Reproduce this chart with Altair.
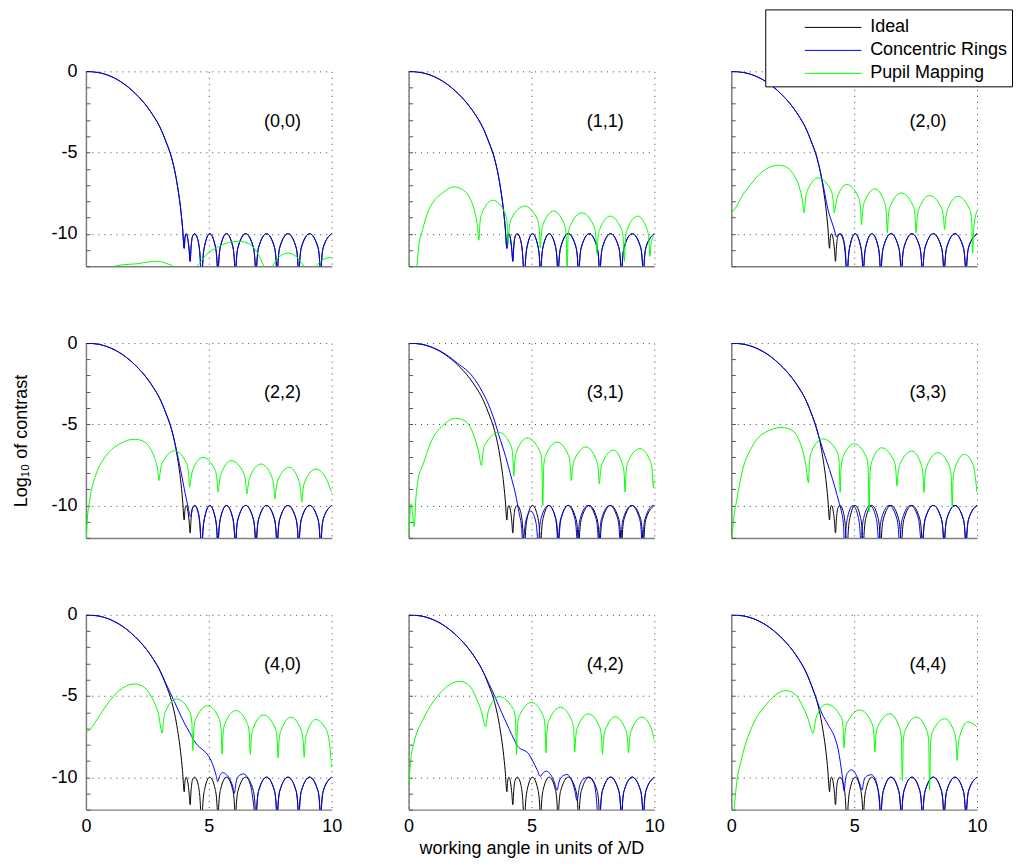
import altair as alt
import pandas as pd

SERIES = ["Ideal", "Concentric Rings", "Pupil Mapping"]
COLORS = ["#000000", "#0000ff", "#00ff00"]
PANELS = ["(0,0)", "(1,1)", "(2,0)", "(2,2)", "(3,1)", "(3,3)", "(4,0)", "(4,2)", "(4,4)"]
X_TICKS = [0, 5, 10]
Y_TICKS = [0, -5, -10]
Y_MINOR = [0, -1, -2, -3, -4, -5, -6, -7, -8, -9, -10, -11, -12]
X_TITLE = "working angle in units of λ/D"
Y_TITLE = "Log₁₀ of contrast"
LABEL_POS = (8.0, -3.1)

# ---- main lobe (shared top part) ----
MAIN_TOP = [(0, 0), (0.5, -0.07), (1.0, -0.3), (1.5, -0.72), (2.0, -1.35), (2.5, -2.2), (2.75, -2.75),
            (3.0, -3.4)]

# ---- Ideal (same in every panel) ----
IDEAL_HEAD = MAIN_TOP + [(3.25, -4.3), (3.5, -5.4), (3.65, -6.4), (3.75, -7.3), (3.85, -8.4), (3.93, -9.6),
                         (4.0, -10.9), (4.03, -10.25), (4.08, -10.0), (4.15, -10.35), (4.2, -11.0),
                         (4.24, -11.7), (4.28, -10.8), (4.33, -10.2), (4.42, -10.0), (4.54, -10.3),
                         (4.63, -11.1)]
IDEAL_MID = [(4.72, -13), (4.75, -11.85), (4.83, -10.75), (5.04, -10.0), (5.26, -10.75), (5.34, -11.85),
             (5.37, -13), (5.40, -11.85), (5.48, -10.75), (5.72, -10.0), (5.97, -10.75), (6.05, -11.85),
             (6.08, -13), (6.11, -11.95), (6.19, -10.83), (6.5, -10.0), (6.81, -10.83), (6.89, -11.95)]
IDEAL_L5 = [(6.92, -13), (6.95, -11.95), (7.03, -10.83), (7.35, -10.0), (7.67, -10.83), (7.75, -11.95)]
IDEAL_FAR = [(7.78, -13), (7.81, -11.95), (7.89, -10.83), (8.22, -10.0), (8.55, -10.83), (8.63, -11.95),
             (8.66, -13), (8.69, -11.95), (8.77, -10.83), (9.1, -10.0), (9.44, -10.83), (9.52, -11.95),
             (9.55, -13), (9.58, -11.95), (9.66, -10.83), (10.0, -10.0)]
IDEAL = IDEAL_HEAD + IDEAL_MID + IDEAL_L5 + IDEAL_FAR

# ---- Concentric Rings ----
CR20_HEAD = MAIN_TOP + [(3.25, -4.3), (3.5, -5.4), (3.65, -6.35), (3.75, -7.1), (3.85, -7.9), (3.95, -8.6),
                        (4.05, -9.1), (4.15, -9.55), (4.22, -9.9), (4.28, -10.2), (4.35, -10.05),
                        (4.45, -10.0), (4.56, -10.3), (4.65, -11.2)]
CR22_HEAD = MAIN_TOP + [(3.25, -4.3), (3.5, -5.4), (3.65, -6.35), (3.75, -7.05), (3.85, -7.8), (3.95, -8.57),
                        (4.05, -9.35), (4.15, -10.05), (4.26, -10.7), (4.33, -10.2), (4.43, -10.0),
                        (4.55, -10.3), (4.64, -11.1)]
CR31 = [(0, 0), (0.5, -0.06), (1.0, -0.28), (1.5, -0.68), (2.0, -1.25), (2.6, -2.05), (3.0, -3.0),
        (3.27, -3.85), (3.5, -4.8), (3.68, -5.7), (3.95, -7.0), (4.2, -8.4), (4.35, -9.3), (4.5, -10.5),
        (4.6, -11.4), (4.66, -13), (4.70, -11.9), (4.78, -10.9), (4.97, -10.35), (5.16, -10.9),
        (5.24, -11.9), (5.28, -13), (5.31, -11.9), (5.39, -10.8), (5.69, -10.0), (5.99, -10.8),
        (6.07, -11.9), (6.10, -13), (6.13, -11.9), (6.21, -10.8), (6.49, -10.0), (6.76, -10.8),
        (6.84, -11.9), (6.87, -13), (6.90, -11.95), (6.98, -10.83), (7.3, -10.0), (7.63, -10.83),
        (7.71, -11.95), (7.74, -13), (7.77, -11.95), (7.85, -10.83), (8.18, -10.0), (8.51, -10.83),
        (8.59, -11.95), (8.62, -13), (8.65, -11.95), (8.73, -10.83), (9.07, -10.0), (9.40, -10.83),
        (9.48, -11.95), (9.51, -13), (9.54, -11.95), (9.62, -10.83), (9.96, -10.0), (10.0, -10.02)]
CR33_HEAD = MAIN_TOP + [(3.2, -4.1), (3.4, -4.95), (3.6, -5.95), (3.81, -6.95), (4.0, -7.8), (4.22, -8.9),
                        (4.4, -9.9), (4.5, -10.5), (4.57, -11.3), (4.62, -13), (4.65, -11.85), (4.73, -10.75),
                        (4.95, -10.0), (5.17, -10.75), (5.25, -11.85), (5.28, -13), (5.31, -11.85),
                        (5.39, -10.75), (5.64, -10.0), (5.89, -10.75), (5.97, -11.85), (6.0, -13),
                        (6.03, -11.95), (6.11, -10.83), (6.42, -10.0), (6.74, -10.83), (6.82, -11.95),
                        (6.85, -13), (6.88, -11.95), (6.96, -10.83), (7.29, -10.0), (7.62, -10.83),
                        (7.70, -11.95)]
CR40_HEAD = MAIN_TOP + [(3.2, -4.05), (3.4, -4.7), (3.6, -5.35), (3.81, -6.05), (4.0, -6.65), (4.22, -7.25),
                        (4.4, -7.75), (4.55, -8.05), (4.7, -8.25), (4.89, -8.5), (5.05, -8.85), (5.2, -9.4),
                        (5.3, -9.9), (5.36, -10.27), (5.45, -9.9), (5.57, -9.72), (5.72, -9.85), (5.88, -10.2),
                        (5.98, -10.6), (6.04, -11.0), (6.1, -10.4), (6.2, -9.95), (6.42, -9.8), (6.6, -10.1),
                        (6.74, -10.8), (6.84, -11.9)]
CR42_HEAD = MAIN_TOP + [(3.27, -4.25), (3.5, -5.0), (3.68, -5.65), (3.9, -6.4), (4.08, -7.0), (4.3, -7.7),
                        (4.42, -8.05), (4.55, -8.25), (4.7, -8.35), (4.85, -8.5), (5.03, -8.95), (5.23, -9.55),
                        (5.36, -9.95), (5.46, -9.75), (5.62, -9.63), (5.78, -9.85), (5.93, -10.3), (6.04, -10.8),
                        (6.12, -10.3), (6.25, -9.95), (6.45, -9.84), (6.62, -10.15), (6.76, -10.8),
                        (6.85, -11.43), (6.95, -10.6), (7.06, -10.2), (7.3, -10.0), (7.52, -10.3),
                        (7.62, -11.0), (7.7, -12.4)]
CR44_HEAD = MAIN_TOP + [(3.25, -4.3), (3.5, -5.35), (3.68, -6.05), (3.95, -6.8), (4.22, -7.6), (4.35, -8.3),
                        (4.44, -9.1), (4.53, -10.1), (4.59, -10.85), (4.65, -10.1), (4.75, -9.7), (4.89, -9.55),
                        (5.02, -9.7), (5.15, -10.1), (5.25, -10.5), (5.32, -10.8), (5.4, -10.2), (5.5, -9.95),
                        (5.7, -9.85), (5.88, -10.2), (5.98, -10.9), (6.04, -11.8), (6.08, -13), (6.11, -11.95),
                        (6.19, -10.83), (6.5, -10.0), (6.81, -10.83), (6.89, -11.95)]

CR = {
    "(0,0)": IDEAL,
    "(1,1)": IDEAL,
    "(2,0)": CR20_HEAD + IDEAL_MID + IDEAL_L5 + IDEAL_FAR,
    "(2,2)": CR22_HEAD + IDEAL_MID + IDEAL_L5 + IDEAL_FAR,
    "(3,1)": CR31,
    "(3,3)": CR33_HEAD + IDEAL_FAR,
    "(4,0)": CR40_HEAD + IDEAL_L5 + IDEAL_FAR,
    "(4,2)": CR42_HEAD + IDEAL_FAR,
    "(4,4)": CR44_HEAD + IDEAL_L5 + IDEAL_FAR,
}

# ---- Pupil Mapping ----
PM00 = [(0, -13), (1.0, -12.4), (1.18, -12), (1.6, -11.9), (2.1, -11.85), (2.5, -11.75), (2.93, -11.7),
        (3.3, -11.85), (3.54, -12), (3.8, -12.5), (4.2, -12.6), (4.54, -12), (4.9, -11.3), (5.4, -10.8),
        (5.8, -10.55), (6.22, -10.47), (6.6, -10.6), (6.95, -11.1), (7.24, -12), (7.42, -12.5), (7.6, -12),
        (7.85, -11.45), (8.22, -11.19), (8.55, -11.4), (8.87, -12), (9.1, -12.5), (9.37, -12),
        (9.65, -11.6), (10.0, -11.45)]
PM11 = [(0, -11.6), (0.04, -13), (0.3, -13), (0.34, -12), (0.42, -10.7), (0.57, -9.74), (0.8, -8.6),
        (1.0, -8.05), (1.38, -7.49), (1.85, -7.12), (2.3, -7.4), (2.55, -8.0), (2.7, -8.7), (2.8, -9.5),
        (2.86, -10.4), (2.9, -9.39), (2.98, -8.74), (3.43, -7.94), (3.93, -8.74), (4.01, -9.39),
        (4.05, -10.67), (4.09, -9.75), (4.17, -9.1), (4.72, -8.3), (5.24, -9.1), (5.32, -9.75),
        (5.36, -10.87), (5.40, -10.05), (5.48, -9.4), (5.9, -8.6), (6.33, -9.4), (6.41, -10.05),
        (6.45, -12.5), (6.49, -10.17), (6.57, -9.52), (7.05, -8.72), (7.54, -9.52), (7.62, -10.17),
        (7.66, -11.2), (7.70, -10.37), (7.78, -9.72), (8.2, -8.92), (8.66, -9.72), (8.74, -10.37),
        (8.78, -11.7), (8.82, -10.37), (8.90, -9.72), (9.32, -8.92), (9.70, -9.72), (9.78, -10.37),
        (9.82, -11.4), (9.87, -10.6), (10.0, -10.1)]
PM20 = [(0, -8.72), (0.2, -8.35), (0.43, -7.7), (0.8, -6.95), (1.1, -6.4), (1.5, -5.95), (1.92, -5.78),
        (2.3, -5.95), (2.55, -6.4), (2.75, -7.05), (2.88, -7.8), (2.97, -8.72), (3.01, -8.01), (3.09, -7.36),
        (3.54, -6.56), (4.07, -7.36), (4.15, -8.01), (4.19, -8.72), (4.23, -8.42), (4.31, -7.77),
        (4.69, -6.97), (5.18, -7.77), (5.26, -8.42), (5.30, -9.44), (5.34, -8.69), (5.42, -8.04),
        (5.84, -7.24), (6.23, -8.04), (6.31, -8.69), (6.35, -9.95), (6.39, -8.94), (6.47, -8.29),
        (6.92, -7.49), (7.40, -8.29), (7.48, -8.94), (7.52, -9.95), (7.56, -9.1), (7.64, -8.45),
        (8.07, -7.65), (8.56, -8.45), (8.64, -9.1), (8.68, -9.74), (8.72, -9.15), (8.80, -8.5),
        (9.22, -7.7), (9.70, -8.5), (9.78, -9.15), (9.82, -11.2), (9.87, -9.6), (10.0, -8.6)]
PM22 = [(0, -12.4), (0.05, -11.0), (0.16, -9.6), (0.3, -8.6), (0.43, -8.0), (0.84, -6.9), (1.38, -6.2),
        (1.99, -5.92), (2.4, -6.1), (2.6, -6.45), (2.8, -7.1), (2.92, -7.8), (2.97, -8.47), (3.01, -8.08),
        (3.09, -7.43), (3.61, -6.63), (4.10, -7.43), (4.18, -8.08), (4.22, -8.88), (4.26, -8.49),
        (4.34, -7.84), (4.76, -7.04), (5.26, -7.84), (5.34, -8.49), (5.38, -9.18), (5.42, -8.69),
        (5.50, -8.04), (5.91, -7.24), (6.43, -8.04), (6.51, -8.69), (6.55, -9.29), (6.59, -8.9),
        (6.67, -8.25), (7.12, -7.45), (7.57, -8.25), (7.65, -8.9), (7.69, -9.6), (7.73, -9.1),
        (7.81, -8.45), (8.27, -7.65), (8.66, -8.45), (8.74, -9.1), (8.78, -9.8), (8.82, -9.21),
        (8.90, -8.56), (9.35, -7.76), (9.8, -8.4), (9.92, -8.9), (10.0, -9.18)]
PM31 = [(0, -12.5), (0.05, -10.6), (0.1, -9.9), (0.17, -10.6), (0.23, -11.3), (0.3, -9.5), (0.4, -8.3),
        (0.57, -7.55), (0.97, -5.9), (1.38, -5.1), (1.92, -4.63), (2.3, -4.8), (2.5, -5.15), (2.7, -5.9),
        (2.85, -6.7), (2.97, -7.55), (3.01, -6.95), (3.09, -6.3), (3.68, -5.5), (4.16, -6.3), (4.24, -6.95),
        (4.28, -8.2), (4.32, -7.3), (4.40, -6.65), (4.82, -5.85), (5.34, -6.65), (5.42, -7.3), (5.46, -10.0),
        (5.50, -7.55), (5.58, -6.9), (6.04, -6.1), (6.50, -6.9), (6.58, -7.55), (6.62, -8.47), (6.66, -7.85),
        (6.74, -7.2), (7.22, -6.4), (7.64, -7.2), (7.72, -7.85), (7.76, -8.67), (7.80, -8.05), (7.88, -7.4),
        (8.34, -6.6), (8.69, -7.4), (8.77, -8.05), (8.81, -9.18), (8.85, -7.95), (8.93, -7.3), (9.42, -6.5),
        (9.84, -7.3), (9.92, -7.95), (9.96, -8.9), (10.0, -8.3)]
PM33 = [(0, -12.5), (0.1, -10.8), (0.23, -9.6), (0.43, -8.0), (0.84, -6.4), (1.38, -5.5), (2.05, -5.2),
        (2.5, -5.4), (2.75, -5.95), (2.95, -6.9), (3.05, -7.7), (3.14, -8.6), (3.18, -7.35), (3.26, -6.7),
        (3.72, -5.9), (4.31, -6.7), (4.39, -7.35), (4.43, -9.2), (4.47, -7.65), (4.55, -7.0), (5.0, -6.2),
        (5.49, -7.0), (5.57, -7.65), (5.61, -10.4), (5.65, -7.9), (5.73, -7.25), (6.11, -6.45), (6.62, -7.25),
        (6.70, -7.9), (6.74, -8.8), (6.78, -8.1), (6.86, -7.45), (7.35, -6.65), (7.72, -7.45), (7.80, -8.1),
        (7.84, -9.2), (7.88, -8.2), (7.96, -7.55), (8.41, -6.75), (8.87, -7.55), (8.95, -8.2), (8.99, -10.1),
        (9.03, -8.3), (9.11, -7.65), (9.49, -6.85), (9.85, -7.55), (9.95, -8.5), (10.0, -9.2)]
PM40 = [(0, -7.2), (0.15, -7.1), (0.3, -6.8), (0.6, -6.1), (0.97, -5.3), (1.5, -4.5), (1.99, -4.26),
        (2.4, -4.5), (2.7, -5.15), (2.95, -6.1), (3.11, -7.3), (3.15, -6.63), (3.23, -5.98), (3.68, -5.18),
        (4.23, -5.98), (4.31, -6.63), (4.35, -8.36), (4.39, -7.05), (4.47, -6.4), (4.96, -5.6), (5.42, -6.4),
        (5.50, -7.05), (5.54, -8.57), (5.58, -7.35), (5.66, -6.7), (6.1, -5.9), (6.57, -6.7), (6.65, -7.35),
        (6.69, -8.6), (6.73, -7.62), (6.81, -6.97), (7.22, -6.17), (7.70, -6.97), (7.78, -7.62), (7.82, -8.81),
        (7.86, -7.76), (7.94, -7.11), (8.34, -6.31), (8.76, -7.11), (8.84, -7.76), (8.88, -8.77), (8.92, -7.9),
        (9.00, -7.25), (9.35, -6.45), (9.75, -7.0), (9.9, -7.8), (10.0, -9.4)]
PM42 = [(0, -10.6), (0.1, -8.8), (0.23, -7.8), (0.57, -6.5), (1.24, -4.9), (2.08, -4.1), (2.5, -4.4),
        (2.73, -5.05), (2.95, -5.9), (3.14, -6.9), (3.18, -6.49), (3.26, -5.84), (3.68, -5.04), (4.27, -5.84),
        (4.35, -6.49), (4.39, -8.6), (4.43, -6.85), (4.51, -6.2), (5.0, -5.4), (5.47, -6.2), (5.55, -6.85),
        (5.59, -8.5), (5.63, -7.15), (5.71, -6.5), (6.18, -5.7), (6.64, -6.5), (6.72, -7.15), (6.76, -8.44),
        (6.80, -7.55), (6.88, -6.9), (7.32, -6.1), (7.77, -6.9), (7.85, -7.55), (7.89, -8.6), (7.93, -7.73),
        (8.01, -7.08), (8.41, -6.28), (8.83, -7.08), (8.91, -7.73), (8.95, -8.5), (8.99, -7.75), (9.07, -7.1),
        (9.49, -6.3), (9.85, -6.9), (10.0, -7.75)]
PM44 = [(0, -13), (0.1, -12.2), (0.2, -10.6), (0.43, -8.8), (0.84, -6.9), (1.38, -5.6), (2.22, -4.67),
        (2.6, -4.9), (2.86, -5.5), (3.1, -6.3), (3.34, -7.3), (3.38, -6.95), (3.46, -6.3), (3.88, -5.5),
        (4.47, -6.3), (4.55, -6.95), (4.59, -8.2), (4.63, -7.31), (4.71, -6.66), (5.23, -5.86), (5.72, -6.66),
        (5.80, -7.31), (5.84, -8.44), (5.88, -7.55), (5.96, -6.9), (6.45, -6.1), (6.84, -6.9), (6.92, -7.55),
        (6.96, -10.2), (7.00, -7.75), (7.08, -7.1), (7.53, -6.3), (7.95, -7.1), (8.03, -7.75), (8.07, -10.8),
        (8.11, -7.85), (8.19, -7.2), (8.68, -6.4), (9.07, -7.2), (9.15, -7.85), (9.19, -8.97), (9.23, -8.05),
        (9.31, -7.4), (9.62, -6.6), (10.0, -6.9)]

PM = {"(0,0)": PM00, "(1,1)": PM11, "(2,0)": PM20, "(2,2)": PM22, "(3,1)": PM31,
      "(3,3)": PM33, "(4,0)": PM40, "(4,2)": PM42, "(4,4)": PM44}

rows = []
for p in PANELS:
    for s, pts in zip(SERIES, [IDEAL, CR[p], PM[p]]):
        for i, (x, y) in enumerate(pts):
            rows.append({"panel": p, "series": s, "i": i, "x": x, "y": y})
df = pd.DataFrame(rows)

FONT = "Liberation Sans"
W, H = 246, 195
FS = 18

color = alt.Color(
    "series:N",
    scale=alt.Scale(domain=SERIES, range=COLORS),
    legend=alt.Legend(
        title=None, orient="none", legendX=680, legendY=-62, direction="vertical",
        symbolType="M-2.1,0H2.1", symbolSize=729, symbolStrokeWidth=1, symbolOffset=50,
        labelFontSize=18, labelFont=FONT, labelOffset=23, labelColor="black",
        strokeColor="black", fillColor="white", padding=4, rowPadding=0, cornerRadius=0,
    ),
)

XSCALE = alt.Scale(domain=[0, 10], nice=False, zero=False)
YSCALE = alt.Scale(domain=[-12, 0], nice=False, zero=False)


def make_panel(idx):
    name = PANELS[idx]
    r, c = divmod(idx, 3)
    d = df[df.panel == name]
    if c == 0:
        yax = alt.Axis(values=Y_TICKS, labelPadding=9, titlePadding=20, grid=True,
                       labelExpr="'' + datum.value")
        ytitle = Y_TITLE if r == 1 else None
    else:
        yax = alt.Axis(values=Y_TICKS, labels=False, grid=True)
        ytitle = None
    if r == 2:
        xax = alt.Axis(values=X_TICKS, labelPadding=8, labelFlush=False, titlePadding=4, grid=True)
        xtitle = X_TITLE if c == 1 else None
    else:
        xax = alt.Axis(values=X_TICKS, labels=False, grid=True)
        xtitle = None
    x = alt.X("x:Q", scale=XSCALE, axis=xax, title=xtitle)
    layers = []
    for k, s in enumerate(SERIES):
        y = alt.Y("y:Q", scale=YSCALE, axis=yax if k == 0 else None, title=ytitle)
        layers.append(
            alt.Chart(d[d.series == s])
            .mark_line(clip=True, interpolate="monotone", strokeWidth=1)
            .encode(x=x, y=y, color=color, order="i:Q")
        )
    lab = (
        alt.Chart(pd.DataFrame({"label": [name], "lx": [LABEL_POS[0]], "ly": [LABEL_POS[1]]}))
        .mark_text(font=FONT, fontSize=FS, color="black")
        .encode(x=alt.X("lx:Q", scale=XSCALE), y=alt.Y("ly:Q", scale=YSCALE, axis=None), text="label:N")
    )
    layers.append(lab)
    # inward minor ticks along the left edge (a right-oriented axis moved onto the left edge)
    ticks = (
        alt.Chart(d[d.series == "Ideal"])
        .mark_line(opacity=0)
        .encode(
            x=alt.X("x:Q", scale=XSCALE),
            y=alt.Y("y:Q", scale=YSCALE, title=None,
                    axis=alt.Axis(orient="right", offset=-W, values=Y_MINOR, labels=False, grid=False,
                                  domain=False, ticks=True, tickSize=4, tickColor="#555555",
                                  tickWidth=1)),
        )
    )
    layers.append(ticks)
    return alt.layer(*layers).resolve_axis(y="independent").properties(width=W, height=H)


chart = (
    alt.concat(*[make_panel(i) for i in range(9)], columns=3,
               spacing={"row": 77, "column": 77}, bounds="flush")
    .properties(padding={"left": 4, "top": 0, "right": 0, "bottom": 0})
    .configure_view(stroke=None)
    .configure_axis(
        labelFont=FONT, labelFontSize=FS, labelColor="black", titleFont=FONT, titleFontSize=FS,
        titleColor="black", titleFontWeight="normal", ticks=False, domainColor="#7f7f7f",
        domainWidth=1.5, gridColor="#000000", gridOpacity=0.75, gridDash=[1, 5], gridWidth=1,
    )
)
chart.save("out.html", embed_options={"renderer": "svg", "actions": False})
